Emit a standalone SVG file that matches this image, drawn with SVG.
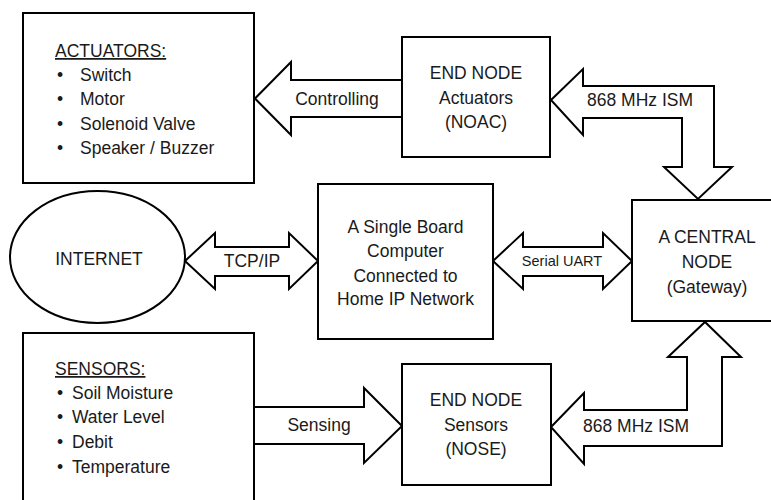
<svg xmlns="http://www.w3.org/2000/svg" width="771" height="500" viewBox="0 0 771 500">
<style>
.box{fill:#fff;stroke:#000;stroke-width:2}
.arr{fill:#fff;stroke:#000;stroke-width:2;stroke-linejoin:miter}
text{font-family:"Liberation Sans",Arial,sans-serif;font-size:17.5px;fill:#1a1a1a}
.c{text-anchor:middle}
.s{font-size:14.5px}
</style>
<rect width="771" height="500" fill="#fff"/>
<g id="connectors">
<path class="arr" d="M402,80 H291 V62 L255,98.5 L291,135 V117 H402"/>
<path class="arr" d="M551,100 L583,69 V86 H714 V167 H732 L698,199 L664,167 H682 V118 H583 V135 Z"/>
<path class="arr" d="M185,261 L215,233 V247 H289 V233 L318,261 L289,289 V276 H215 V289 Z"/>
<path class="arr" d="M493,261 L523,233 V247 H603 V233 L632,261 L603,289 V276 H523 V289 Z"/>
<path class="arr" d="M254,407 H364 V388 L402,426 L364,463 V444 H254"/>
<path class="arr" d="M551,427 L584,393 V410 H687 V357 H668 L705,322 L741,357 H722 V446 H584 V464 Z"/>
<text class="c" x="337" y="105">Controlling</text>
<text class="c" x="640" y="106">868 MHz ISM</text>
<text class="c" x="252" y="267">TCP/IP</text>
<text class="c s" x="562" y="266">Serial UART</text>
<text class="c" x="319" y="431">Sensing</text>
<text class="c" x="636" y="432">868 MHz ISM</text>
</g>
<g id="actuators">
<rect class="box" x="23" y="13" width="231" height="170"/>
<text x="55" y="57" text-decoration="underline">ACTUATORS:</text>
<text x="57" y="81">•</text><text x="80" y="81">Switch</text>
<text x="57" y="105">•</text><text x="80" y="105">Motor</text>
<text x="57" y="130">•</text><text x="80" y="130">Solenoid Valve</text>
<text x="57" y="154">•</text><text x="80" y="154">Speaker / Buzzer</text>
</g>
<g id="noac">
<rect class="box" x="402" y="37" width="148" height="120"/>
<text class="c" x="476" y="79">END NODE</text>
<text class="c" x="476" y="104">Actuators</text>
<text class="c" x="476" y="128">(NOAC)</text>
</g>
<g id="internet">
<ellipse class="box" cx="97.5" cy="257" rx="87.5" ry="66"/>
<text class="c" x="99" y="265">INTERNET</text>
</g>
<g id="sbc">
<rect class="box" x="318" y="184" width="175" height="155"/>
<text class="c" x="405.5" y="233">A Single Board</text>
<text class="c" x="405.5" y="257">Computer</text>
<text class="c" x="405.5" y="282">Connected to</text>
<text class="c" x="405.5" y="305">Home IP Network</text>
</g>
<g id="gateway">
<rect class="box" x="632" y="200" width="145" height="121"/>
<text class="c" x="707" y="243">A CENTRAL</text>
<text class="c" x="707" y="268">NODE</text>
<text class="c" x="707" y="293">(Gateway)</text>
</g>
<g id="sensors">
<rect class="box" x="23" y="333" width="231" height="170"/>
<text x="55" y="375" text-decoration="underline">SENSORS:</text>
<text x="57" y="399">•</text><text x="72" y="399">Soil Moisture</text>
<text x="57" y="423">•</text><text x="72" y="423">Water Level</text>
<text x="57" y="448">•</text><text x="72" y="448">Debit</text>
<text x="57" y="473">•</text><text x="72" y="473">Temperature</text>
</g>
<g id="nose">
<rect class="box" x="402" y="364" width="149" height="121"/>
<text class="c" x="476" y="406">END NODE</text>
<text class="c" x="476" y="431">Sensors</text>
<text class="c" x="476" y="455">(NOSE)</text>
</g>
</svg>
